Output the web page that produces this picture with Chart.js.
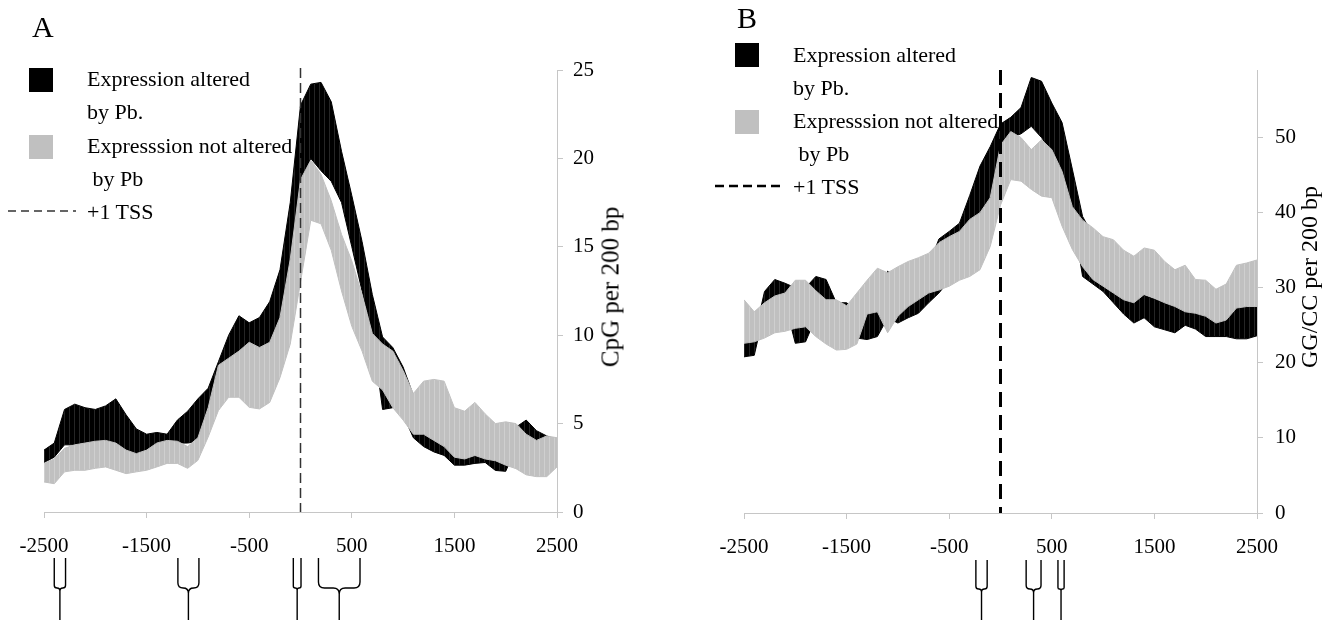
<!DOCTYPE html>
<html>
<head>
<meta charset="utf-8">
<title>CpG and GG/CC density around the TSS</title>
<script src="https://cdn.jsdelivr.net/npm/chart.js@4.4.1/dist/chart.umd.min.js"></script>
<style>
  html, body { margin: 0; padding: 0; background: #fff; }
  body { width: 1337px; height: 620px; position: relative; overflow: hidden;
         font-family: "Liberation Serif", "Times New Roman", serif; color: #000; }
  canvas { position: absolute; top: 0; }
  #chartA { left: 0; }
  #chartB { left: 700px; }
  .txt { position: absolute; white-space: pre; font-size: 22px; line-height: 22px; }
  .letter { position: absolute; font-size: 30px; line-height: 30px; }
  .sq { position: absolute; width: 24px; height: 24px; }
  .ytitle { position: absolute; white-space: nowrap; line-height: 1;
            transform: translate(-50%, -50%) rotate(-90deg); }
  svg { position: absolute; }
</style>
</head>
<body>
<canvas id="chartA" width="668" height="620"></canvas>
<canvas id="chartB" width="637" height="620"></canvas>

<!-- panel A labels -->
<div class="letter" style="left:32px; top:12px;">A</div>
<div class="sq" style="left:29px; top:68px; background:#000;"></div>
<div class="txt" style="left:87px; top:68px;">Expression altered</div>
<div class="txt" style="left:87px; top:101px;">by Pb.</div>
<div class="sq" style="left:29px; top:135px; background:#c0c0c0;"></div>
<div class="txt" style="left:87px; top:135px;">Expresssion not altered</div>
<div class="txt" style="left:87px; top:168px;"> by Pb</div>
<svg style="left:8px; top:205px;" width="68" height="12"><line x1="0" y1="6" x2="68" y2="6" stroke="#333" stroke-width="1.5" stroke-dasharray="8 5"/></svg>
<div class="txt" style="left:87px; top:201px;">+1 TSS</div>
<div class="ytitle" style="left:610px; top:287px; font-size:25px;">CpG per 200 bp</div>

<!-- panel B labels -->
<div class="letter" style="left:737px; top:3px;">B</div>
<div class="sq" style="left:735px; top:43px; background:#000;"></div>
<div class="txt" style="left:793px; top:44px;">Expression altered</div>
<div class="txt" style="left:793px; top:77px;">by Pb.</div>
<div class="sq" style="left:735px; top:110px; background:#c0c0c0;"></div>
<div class="txt" style="left:793px; top:110px;">Expresssion not altered</div>
<div class="txt" style="left:793px; top:143px;"> by Pb</div>
<svg style="left:715px; top:180px;" width="66" height="12"><line x1="0" y1="6" x2="66" y2="6" stroke="#000" stroke-width="2.5" stroke-dasharray="9 5"/></svg>
<div class="txt" style="left:793px; top:176px;">+1 TSS</div>
<div class="ytitle" style="left:1309px; top:277px; font-size:24px;">GG/CC per 200 bp</div>

<script>
// position relative to the transcription start site (bp)
const positions = [-2500, -2400, -2300, -2200, -2100, -2000, -1900, -1800, -1700, -1600,
    -1500, -1400, -1300, -1200, -1100, -1000, -900, -800, -700, -600,
    -500, -400, -300, -200, -100, 0, 100, 200, 300, 400,
    500, 600, 700, 800, 900, 1000, 1100, 1200, 1300, 1400,
    1500, 1600, 1700, 1800, 1900, 2000, 2100, 2200, 2300, 2400, 2500];
const xTicks = [-2500, -1500, -500, 500, 1500, 2500];
const tssPosition = 0;

// A: CpG per 200 bp, band = low/high
const alteredHiA = [3.5, 3.9, 5.8, 6.1, 5.9, 5.8, 6.0, 6.4, 5.5, 4.7,
    4.4, 4.5, 4.4, 5.2, 5.7, 6.4, 7.0, 8.5, 10.0, 11.1,
    10.7, 11.0, 11.9, 13.7, 17.5, 23.0, 24.2, 24.3, 23.2, 20.4,
    17.9, 15.3, 12.3, 9.9, 9.3, 8.2, 6.6, 5.5, 5.0, 4.6,
    4.0, 4.0, 4.1, 4.0, 3.8, 3.6, 4.8, 5.2, 4.6, 4.3, 4.1];
const alteredLoA = [2.8, 3.1, 3.8, 3.8, 3.9, 3.9, 3.9, 3.9, 3.3, 3.1,
    3.4, 3.7, 3.9, 3.9, 3.9, 4.0, 5.0, 8.0, 8.4, 8.8,
    9.3, 9.0, 9.3, 10.7, 14.0, 18.5, 20.0, 19.3, 18.7, 17.5,
    15.0, 12.5, 10.1, 5.8, 5.9, 5.5, 4.2, 3.7, 3.4, 3.2,
    2.65, 2.65, 2.75, 2.8, 2.35, 2.3, 3.6, 3.2, 3.2, 3.0, 3.4];
const notAlteredHiA = [2.75, 3.0, 3.6, 3.8, 3.9, 4.0, 4.05, 3.9, 3.5, 3.3,
    3.5, 3.9, 4.05, 4.0, 3.7, 4.2, 5.9, 8.3, 8.7, 9.1,
    9.6, 9.3, 9.6, 11.0, 14.3, 18.8, 19.9, 19.1, 17.6, 15.7,
    14.2, 12.3, 10.1, 9.5, 9.1, 8.0, 6.7, 7.4, 7.5, 7.4,
    5.9, 5.7, 6.2, 5.55, 5.0, 5.1, 5.0, 4.4, 4.05, 4.3, 4.2];
const notAlteredLoA = [1.7, 1.6, 2.27, 2.36, 2.36, 2.47, 2.55, 2.36, 2.17, 2.27,
    2.36, 2.55, 2.75, 2.75, 2.47, 2.92, 4.24, 5.74, 6.49, 6.49,
    5.92, 5.83, 6.2, 7.6, 9.5, 13.0, 16.5, 16.3, 14.8, 12.5,
    10.5, 9.1, 7.4, 6.9, 5.9, 5.2, 4.4, 4.4, 4.05, 3.7,
    3.1, 3.0, 3.2, 3.0, 2.9, 2.65, 2.45, 2.1, 2.0, 2.0, 2.55];
const yTicksA = [0, 5, 10, 15, 20, 25];
const bracesA = [[-2400, -2290], [-1195, -990], [-70, 5], [175, 580]];

// B: GG/CC per 200 bp
const alteredHiB = [23.0, 23.5, 29.5, 31.1, 30.6, 30.0, 30.0, 31.5, 31.1, 28.0,
    28.0, 27.0, 26.8, 26.8, 32.2, 31.0, 33.0, 32.0, 33.0, 36.5,
    37.5, 38.6, 42.3, 46.2, 48.8, 51.8, 52.7, 54.0, 58.0, 57.5,
    54.6, 52.0, 45.8, 39.5, 37.0, 34.0, 33.0, 31.0, 30.0, 29.0,
    28.5, 28.0, 27.5, 27.2, 27.5, 27.0, 26.0, 27.0, 28.0, 28.0, 28.3];
const alteredLoB = [20.8, 21.0, 27.0, 28.0, 28.0, 22.6, 22.8, 26.0, 26.0, 24.0,
    23.0, 23.3, 23.1, 23.5, 26.0, 25.3, 26.0, 26.6, 28.0, 29.3,
    31.0, 32.0, 35.0, 38.0, 40.0, 44.0, 50.0, 50.5, 51.5, 50.0,
    48.0, 45.0, 40.0, 31.5, 30.5, 29.5, 28.0, 26.5, 25.3, 26.0,
    24.8, 24.4, 24.0, 25.0, 24.5, 23.5, 23.5, 23.5, 23.2, 23.2, 23.6];
const notAlteredHiB = [28.4, 26.8, 28.0, 28.9, 29.3, 31.0, 31.0, 29.6, 28.4, 28.4,
    27.6, 29.3, 31.0, 32.6, 32.0, 32.8, 33.5, 34.0, 34.6, 36.0,
    36.8, 37.5, 39.1, 40.0, 42.0, 49.0, 50.8, 50.0, 48.4, 49.7,
    48.4, 45.5, 40.8, 39.0, 38.0, 36.8, 36.4, 35.0, 34.2, 35.3,
    35.0, 33.5, 32.4, 33.0, 31.1, 31.0, 29.8, 30.5, 33.0, 33.3, 33.7];
const notAlteredLoB = [22.6, 22.8, 23.3, 24.0, 24.2, 24.6, 24.8, 23.5, 22.5, 21.7,
    21.8, 22.5, 26.5, 26.8, 24.0, 26.2, 27.5, 28.4, 29.3, 29.7,
    30.2, 31.0, 31.5, 32.4, 35.5, 41.0, 44.4, 44.2, 43.1, 42.2,
    42.0, 38.2, 35.1, 32.8, 31.1, 30.2, 29.3, 28.4, 28.0, 29.1,
    28.6, 28.0, 27.5, 26.8, 26.6, 26.2, 25.3, 25.7, 27.3, 27.5, 27.5];
const yTicksB = [0, 10, 20, 30, 40, 50];
const bracesB = [[-240, -130], [250, 395], [560, 620]];

const tickFont = { family: "'Liberation Serif', 'Times New Roman', serif", size: 21 };
const axisGray = '#c6c6c6';

function stripes(ctx, base, line) {
    const tile = document.createElement('canvas');
    tile.width = 5;
    tile.height = 4;
    const t = tile.getContext('2d');
    t.fillStyle = base;
    t.fillRect(0, 0, 5, 4);
    t.fillStyle = line;
    t.fillRect(4, 0, 1, 4);
    return ctx.createPattern(tile, 'repeat');
}

function points(values) {
    return positions.map((x, i) => ({ x: x, y: values[i] }));
}

// dashed +1 TSS marker
const tssPlugin = {
    id: 'tss',
    afterDatasetsDraw(chart, args, opts) {
        const x = chart.scales.x.getPixelForValue(tssPosition);
        const area = chart.chartArea;
        const ctx = chart.ctx;
        ctx.save();
        ctx.strokeStyle = opts.color;
        ctx.lineWidth = opts.width;
        ctx.setLineDash(opts.dash);
        ctx.beginPath();
        ctx.moveTo(x, area.top + opts.topOffset);
        ctx.lineTo(x, area.bottom);
        ctx.stroke();
        ctx.restore();
    }
};

// brackets under the x axis
const bracePlugin = {
    id: 'braces',
    afterDraw(chart, args, opts) {
        const xs = chart.scales.x;
        const ctx = chart.ctx;
        ctx.save();
        ctx.strokeStyle = '#000';
        ctx.lineWidth = 1.4;
        opts.ranges.forEach(([from, to]) => {
            const x1 = xs.getPixelForValue(from);
            const x2 = xs.getPixelForValue(to);
            const xc = (x1 + x2) / 2;
            const r = Math.min(6, (x2 - x1) / 4);
            const j = opts.junction;
            ctx.beginPath();
            ctx.moveTo(x1, opts.top);
            ctx.lineTo(x1, j - r);
            ctx.quadraticCurveTo(x1, j, x1 + r, j);
            ctx.lineTo(xc - r, j);
            ctx.quadraticCurveTo(xc, j, xc, j + r);
            ctx.lineTo(xc, opts.bottom);
            ctx.moveTo(x2, opts.top);
            ctx.lineTo(x2, j - r);
            ctx.quadraticCurveTo(x2, j, x2 - r, j);
            ctx.lineTo(xc + r, j);
            ctx.quadraticCurveTo(xc, j, xc, j + r);
            ctx.stroke();
        });
        ctx.restore();
    }
};

function bandChart(id, d) {
    const ctx = document.getElementById(id).getContext('2d');
    const grayFill = stripes(ctx, '#c0c0c0', '#cfcfcf');
    const blackFill = stripes(ctx, '#000000', '#262626');
    const band = (values, color, fill, order, fillFrom) => ({
        data: points(values),
        borderColor: color,
        borderWidth: 1,
        backgroundColor: fill,
        pointRadius: 0,
        tension: 0,
        fill: fillFrom,
        order: order
    });
    return new Chart(ctx, {
        type: 'line',
        data: {
            datasets: [
                band(d.grayLo, '#c0c0c0', grayFill, 0, false),
                band(d.grayHi, '#c0c0c0', grayFill, 0, '-1'),
                band(d.blackLo, '#000000', blackFill, 1, false),
                band(d.blackHi, '#000000', blackFill, 1, '-1')
            ]
        },
        options: {
            responsive: false,
            animation: false,
            events: [],
            layout: { padding: { left: 44, top: 70, right: 0, bottom: 0 } },
            scales: {
                x: {
                    type: 'linear',
                    min: -2500,
                    max: 2500,
                    afterBuildTicks: s => { s.ticks = xTicks.map(v => ({ value: v })); },
                    afterFit: s => { s.height = d.xHeight; },
                    ticks: { font: tickFont, color: '#000', padding: 16, maxRotation: 0,
                             autoSkip: false, callback: v => String(v) },
                    grid: { drawOnChartArea: false, tickLength: 6, color: axisGray },
                    border: { color: axisGray, width: 1 }
                },
                y: {
                    type: 'linear',
                    position: 'right',
                    min: 0,
                    max: d.yMax,
                    afterBuildTicks: s => { s.ticks = d.yTicks.map(v => ({ value: v })); },
                    afterFit: s => { s.width = d.yWidth; },
                    ticks: { font: tickFont, color: '#000', padding: d.yPad, callback: v => String(v) },
                    grid: { drawOnChartArea: false, tickLength: 6, color: axisGray },
                    border: { color: axisGray, width: 1 }
                }
            },
            plugins: {
                legend: { display: false },
                tooltip: { enabled: false },
                filler: { propagate: false },
                tss: d.tss,
                braces: d.braces
            }
        },
        plugins: [tssPlugin, bracePlugin]
    });
}

const chartA = bandChart('chartA', {
    grayLo: notAlteredLoA, grayHi: notAlteredHiA,
    blackLo: alteredLoA, blackHi: alteredHiA,
    yMax: 25, yTicks: yTicksA, yWidth: 111, yPad: 10, xHeight: 108,
    tss: { color: '#333', width: 1.5, dash: [10, 5], topOffset: -2 },
    braces: { ranges: bracesA, top: 558, junction: 588, bottom: 620 }
});

const chartB = bandChart('chartB', {
    grayLo: notAlteredLoB, grayHi: notAlteredHiB,
    blackLo: alteredLoB, blackHi: alteredHiB,
    yMax: 59, yTicks: yTicksB, yWidth: 80, yPad: 12, xHeight: 107,
    tss: { color: '#000', width: 3, dash: [15, 8], topOffset: 0 },
    braces: { ranges: bracesB, top: 560, junction: 589, bottom: 620 }
});
</script>
</body>
</html>
